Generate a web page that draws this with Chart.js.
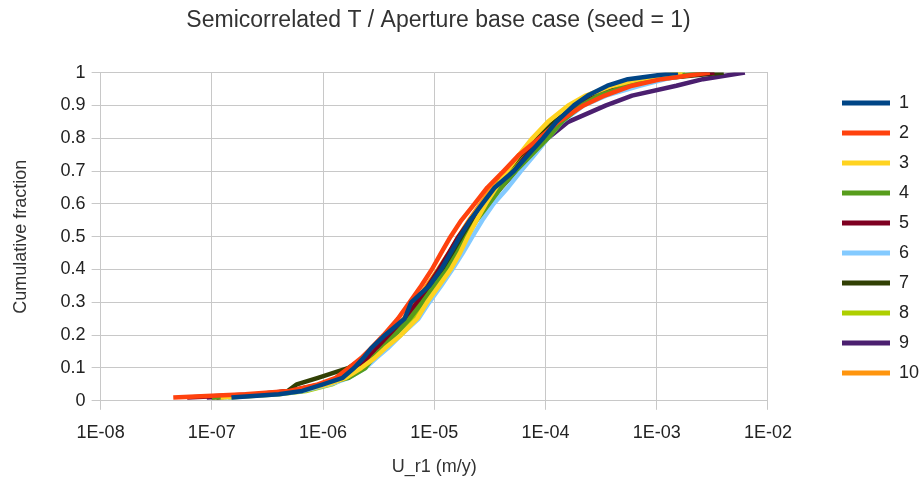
<!DOCTYPE html>
<html>
<head>
<meta charset="utf-8">
<script src="https://cdn.jsdelivr.net/npm/chart.js@4/dist/chart.umd.min.js"></script>
<style>
  html, body { margin: 0; padding: 0; background: #fff; }
  #cadre { width: 924px; height: 484px; }
</style>
</head>
<body>
<div id="cadre"><canvas id="myChart1"></canvas></div>
<script>
// Fractions cumulées (axe Y), communes à toutes les séries
const fractions = [0.01, 0.02, 0.03, 0.05, 0.07, 0.1, 0.13, 0.16, 0.2, 0.25, 0.3, 0.35, 0.4, 0.45, 0.5,
                   0.55, 0.6, 0.65, 0.7, 0.75, 0.8, 0.85, 0.9, 0.93, 0.96, 0.98, 1];

// Valeurs U_r1 (m/y), une liste par graine
const serie1 = [1.5e-7, 4.0e-7, 6.5e-7, 1.0e-6, 1.5e-6, 1.9e-6, 2.3e-6, 2.7e-6, 3.6e-6, 5.4e-6, 6.2e-6, 9.0e-6, 1.15e-5, 1.4e-5, 1.7e-5,
                2.1e-5, 2.7e-5, 3.5e-5, 5.2e-5, 7.0e-5, 9.5e-5, 1.25e-4, 1.8e-4, 2.4e-4, 3.6e-4, 5.5e-4, 1.55e-3];
const serie2 = [4.5e-8, 2.0e-7, 5.0e-7, 9.0e-7, 1.3e-6, 1.7e-6, 2.2e-6, 2.7e-6, 3.5e-6, 4.7e-6, 6.0e-6, 7.6e-6, 9.5e-6, 1.15e-5, 1.4e-5,
                1.75e-5, 2.3e-5, 3.0e-5, 4.2e-5, 5.8e-5, 8.8e-5, 1.3e-4, 2.2e-4, 3.4e-4, 6.0e-4, 1.1e-3, 3.0e-3];
const serie3 = [1.2e-7, 3.5e-7, 6.0e-7, 1.1e-6, 1.6e-6, 2.2e-6, 2.9e-6, 3.6e-6, 5.0e-6, 7.0e-6, 8.6e-6, 1.1e-5, 1.4e-5, 1.7e-5, 2.0e-5,
                2.4e-5, 2.9e-5, 3.6e-5, 4.5e-5, 5.8e-5, 7.6e-5, 1.05e-4, 1.6e-4, 2.3e-4, 4.0e-4, 7.0e-4, 1.7e-3];
const serie4 = [1.0e-7, 3.0e-7, 5.5e-7, 1.0e-6, 1.7e-6, 2.4e-6, 2.8e-6, 3.4e-6, 4.4e-6, 6.0e-6, 7.8e-6, 1.0e-5, 1.3e-5, 1.6e-5, 1.95e-5,
                2.4e-5, 3.1e-5, 4.0e-5, 5.4e-5, 7.5e-5, 1.05e-4, 1.4e-4, 2.1e-4, 3.0e-4, 5.5e-4, 1.0e-3, 2.5e-3];
const serie5 = [6.0e-8, 2.5e-7, 5.0e-7, 9.5e-7, 1.4e-6, 2.0e-6, 2.5e-6, 3.0e-6, 4.0e-6, 5.5e-6, 7.0e-6, 8.8e-6, 1.1e-5, 1.35e-5, 1.65e-5,
                2.1e-5, 2.8e-5, 3.7e-5, 5.2e-5, 6.8e-5, 9.5e-5, 1.3e-4, 2.0e-4, 3.0e-4, 5.2e-4, 9.0e-4, 3.3e-3];
const serie6 = [1.3e-7, 3.8e-7, 6.5e-7, 1.15e-6, 1.7e-6, 2.4e-6, 3.0e-6, 3.8e-6, 5.0e-6, 7.2e-6, 9.0e-6, 1.15e-5, 1.45e-5, 1.8e-5, 2.2e-5,
                2.7e-5, 3.4e-5, 4.6e-5, 6.0e-5, 8.0e-5, 1.05e-4, 1.4e-4, 2.2e-4, 3.5e-4, 7.0e-4, 1.2e-3, 2.4e-3];
const serie7 = [1.1e-7, 3.0e-7, 4.8e-7, 5.8e-7, 9.0e-7, 1.7e-6, 2.3e-6, 2.9e-6, 4.2e-6, 5.8e-6, 7.5e-6, 9.5e-6, 1.2e-5, 1.5e-5, 1.8e-5,
                2.3e-5, 2.9e-5, 3.6e-5, 4.5e-5, 6.0e-5, 8.2e-5, 1.2e-4, 1.9e-4, 2.9e-4, 5.0e-4, 9.5e-4, 4.0e-3];
const serie8 = [1.4e-7, 4.0e-7, 7.0e-7, 1.2e-6, 1.6e-6, 2.1e-6, 2.7e-6, 3.5e-6, 4.8e-6, 6.5e-6, 8.0e-6, 1.0e-5, 1.25e-5, 1.55e-5, 1.9e-5,
                2.3e-5, 2.9e-5, 3.7e-5, 4.9e-5, 6.6e-5, 9.0e-5, 1.25e-4, 1.9e-4, 2.8e-4, 4.8e-4, 8.5e-4, 1.8e-3];
const serie9 = [9.0e-8, 2.8e-7, 5.5e-7, 1.0e-6, 1.5e-6, 2.1e-6, 2.4e-6, 2.9e-6, 4.1e-6, 5.6e-6, 7.2e-6, 9.2e-6, 1.2e-5, 1.5e-5, 1.85e-5,
                2.3e-5, 3.0e-5, 4.0e-5, 5.5e-5, 7.5e-5, 1.05e-4, 1.6e-4, 3.5e-4, 6.0e-4, 1.5e-3, 2.6e-3, 6.2e-3];
const serie10 = [1.0e-7, 3.2e-7, 5.5e-7, 1.0e-6, 1.45e-6, 1.75e-6, 2.3e-6, 2.9e-6, 4.0e-6, 5.3e-6, 6.8e-6, 8.5e-6, 1.08e-5, 1.35e-5, 1.65e-5,
                 2.05e-5, 2.6e-5, 3.3e-5, 4.4e-5, 6.0e-5, 8.5e-5, 1.25e-4, 2.0e-4, 3.2e-4, 6.0e-4, 1.1e-3, 2.8e-3];

const nomsSeries = ['1', '2', '3', '4', '5', '6', '7', '8', '9', '10'];
const couleurs = ['#004586', '#ff420e', '#ffd320', '#579d1c', '#7e0021', '#83caff', '#314004', '#aecf00', '#4b1f6f', '#ff950e'];

// Graduations des axes
const xTickValues = [1e-8, 1e-7, 1e-6, 1e-5, 1e-4, 1e-3, 1e-2];
const xTickLabels = ['1E-08', '1E-07', '1E-06', '1E-05', '1E-04', '1E-03', '1E-02'];
const yTickLabels = ['0', '0.1', '0.2', '0.3', '0.4', '0.5', '0.6', '0.7', '0.8', '0.9', '1'];

const toutesSeries = [serie1, serie2, serie3, serie4, serie5, serie6, serie7, serie8, serie9, serie10];

const datasets = toutesSeries.map((serie, i) => ({
    label: nomsSeries[i],
    data: serie.map((x, j) => ({ x: x, y: fractions[j] })),
    borderColor: couleurs[i],
    backgroundColor: couleurs[i],
    borderWidth: 4.5,
    pointRadius: 0,
    borderJoinStyle: 'round',
    fill: false
}));

// Déplace la légende comme sur l'original
const placeLegende = {
    id: 'placeLegende',
    afterLayout(chart) {
        const lg = chart.legend;
        const w = lg.right - lg.left;
        lg.left = 830;
        lg.right = lg.left + w;
        lg.top -= 2;
        lg.bottom -= 2;
    }
};

const grille = '#c8c8c8';
const texte = '#222';

const ctx = document.getElementById('myChart1').getContext('2d');
const chartGeneral = new Chart(ctx, {
    type: 'line',
    data: { datasets: datasets },
    plugins: [placeLegende],
    options: {
        responsive: true,
        maintainAspectRatio: false,
        animation: false,
        layout: { padding: { left: 10, right: 57, top: 2, bottom: 6 } },
        scales: {
            x: {
                type: 'logarithmic',
                min: 1e-8,
                max: 1e-2,
                afterBuildTicks: (axis) => { axis.ticks = xTickValues.map(v => ({ value: v })); },
                ticks: {
                    autoSkip: false,
                    maxRotation: 0,
                    padding: 12,
                    color: texte,
                    font: { family: 'Liberation Sans', size: 18 },
                    callback: (value, index) => xTickLabels[index]
                },
                grid: { color: grille, tickLength: 9, tickColor: grille },
                border: { color: grille },
                title: {
                    display: true,
                    text: 'U_r1 (m/y)',
                    color: '#333',
                    font: { family: 'Liberation Sans', size: 18 },
                    padding: { top: 1, bottom: 0 }
                }
            },
            y: {
                min: 0,
                max: 1,
                ticks: {
                    stepSize: 0.1,
                    padding: 6,
                    color: texte,
                    font: { family: 'Liberation Sans', size: 18 },
                    callback: (value, index) => yTickLabels[index]
                },
                grid: { color: grille, tickLength: 9, tickColor: grille },
                border: { color: grille },
                title: {
                    display: true,
                    text: 'Cumulative fraction',
                    color: '#333',
                    font: { family: 'Liberation Sans', size: 18 },
                    padding: { top: 0, bottom: 23 }
                }
            }
        },
        plugins: {
            title: {
                display: true,
                text: 'Semicorrelated T / Aperture base case (seed = 1)',
                color: '#333',
                font: { family: 'Liberation Sans', size: 23, weight: 'normal' },
                padding: { top: 5, bottom: 38 }
            },
            legend: {
                position: 'right',
                labels: {
                    boxWidth: 48,
                    boxHeight: 5,
                    padding: 12,
                    color: texte,
                    font: { family: 'Liberation Sans', size: 18 },
                    generateLabels: (chart) => Chart.defaults.plugins.legend.labels.generateLabels(chart)
                        .map(item => Object.assign(item, { lineWidth: 0 }))
                }
            },
            tooltip: { enabled: false }
        }
    }
});
</script>
</body>
</html>
